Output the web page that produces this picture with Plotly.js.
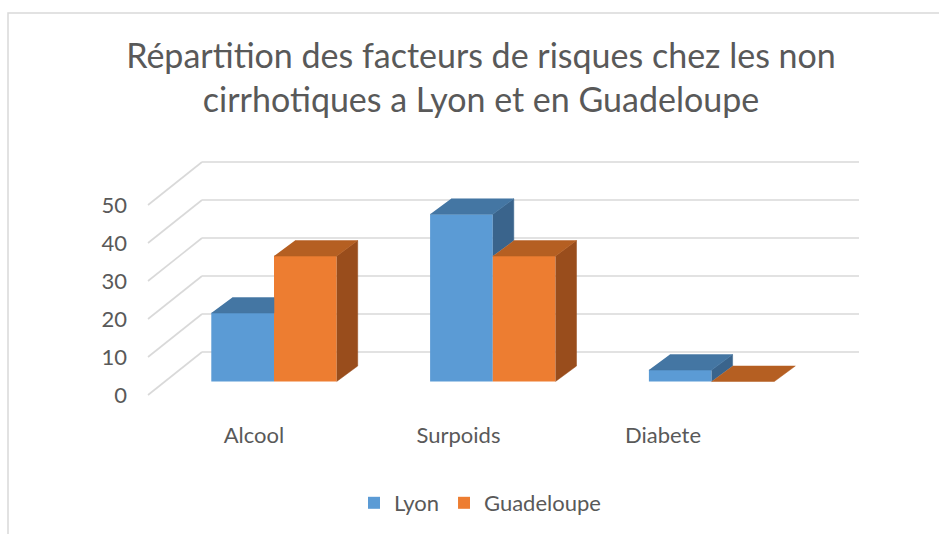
<!DOCTYPE html>
<html><head><meta charset="utf-8">
<script src="https://cdn.plot.ly/plotly-3.0.1.min.js"></script>
<style>html,body{margin:0;padding:0;background:#fff}#chart{width:939px;height:534px}</style>
</head><body><div id="chart"></div>
<script>
// ---- data ----
const categories = ['Alcool', 'Surpoids', 'Diabete'];
const seriesNames = ['Lyon', 'Guadeloupe'];
const lyon = [18, 44, 3];
const guadeloupe = [33, 33, 0];
const yTicks = [0, 10, 20, 30, 40, 50];
const titleText = 'Répartition des facteurs de risques chez les non<br>cirrhotiques a Lyon et en Guadeloupe';

// ---- styling / geometry (pixels) ----
const W = 939, H = 534;
const plotL = 128, plotR = 900, plotT = 150, plotB = 420;
const barX0 = 274, pxPerCat = 218.8, barY0 = 381.5, pxPerUnit = 3.8;
const barWpx = 62.7;
const depthPx = [21, -15.5];
const frontShiftPx = [-17, 13.5];
const backShiftPx = [37, -29.5];
const floorFrontLeftPx = 148, wallRightPx = 859;
const labelX0 = 254, labelStep = 204.5;
const frontCols = ['#5B9BD5', '#ED7D31'];
const topCols = ['#4476A3', '#B55F22'];
const sideCols = ['#3A648C', '#994D1C'];
const gridCol = '#d9d9d9';
const textCol = '#595959';
const fontFam = 'Lato, "Open Sans", sans-serif';

const ux = px => px / pxPerCat;        // pixel dx -> x units
const uy = py => -py / pxPerUnit;      // pixel dy (down +) -> y units
const xRange = [(plotL - barX0) / pxPerCat, (plotR - barX0) / pxPerCat];
const yRange = [(barY0 - plotB) / pxPerUnit, (barY0 - plotT) / pxPerUnit];
const w = ux(barWpx), ddx = ux(depthPx[0]), ddy = uy(depthPx[1]);
const series = [lyon, guadeloupe];
const idx = categories.map((_, i) => i);

const traces = [];
// front faces: bars
series.forEach((vals, s) => {
  traces.push({
    type: 'bar', name: seriesNames[s], x: idx, y: vals,
    width: w, offset: (s - series.length / 2) * w,
    marker: {color: frontCols[s], line: {width: 0}},
    hoverinfo: 'y'
  });
});
// top and side faces (oblique 3D look), hidden parts clipped
series.forEach((vals, s) => {
  const next = series[s + 1];
  const tx = [], ty = [], sx = [], sy = [];
  const push = (ax, ay, pts) => { pts.forEach(p => { ax.push(p[0]); ay.push(p[1]); }); ax.push(null); ay.push(null); };
  idx.forEach(i => {
    const xl = i + (s - series.length / 2) * w, xr = xl + w, v = vals[i];
    const vn = next ? next[i] : -Infinity;
    let top;
    if (vn <= v) top = [[xl, v], [xr, v], [xr + ddx, v + ddy], [xl + ddx, v + ddy]];
    else if (vn >= v + ddy) top = [[xl, v], [xr, v], [xr, v + ddy], [xl + ddx, v + ddy]];
    else top = [[xl, v], [xr, v], [xr, vn], [xr + (vn - v) * ddx / ddy, vn], [xr + ddx, v + ddy], [xl + ddx, v + ddy]];
    push(tx, ty, top);
    const base = Math.max(0, vn);
    if (v > base) push(sx, sy, [[xr, base], [xr + ddx, base + ddy], [xr + ddx, v + ddy], [xr, v]]);
  });
  traces.push({type: 'scatter', mode: 'lines', x: sx, y: sy, fill: 'toself', fillcolor: sideCols[s],
    line: {color: sideCols[s], width: 0.5}, showlegend: false, hoverinfo: 'skip'});
  traces.push({type: 'scatter', mode: 'lines', x: tx, y: ty, fill: 'toself', fillcolor: topCols[s],
    line: {color: topCols[s], width: 0.5}, showlegend: false, hoverinfo: 'skip'});
});

// gridlines (back wall + floor diagonals) as shapes below the data
const frontLeftX = (floorFrontLeftPx - barX0) / pxPerCat;
const backLeftX = frontLeftX + ux(backShiftPx[0] - frontShiftPx[0]);
const backRightX = (wallRightPx - barX0) / pxPerCat;
const shapes = [];
yTicks.forEach(t => {
  const yb = t + uy(backShiftPx[1]), yf = t + uy(frontShiftPx[1]);
  shapes.push({type: 'line', xref: 'x', yref: 'y', layer: 'below', x0: backLeftX, x1: backRightX, y0: yb, y1: yb,
    line: {color: gridCol, width: 1.6}});
  shapes.push({type: 'line', xref: 'x', yref: 'y', layer: 'below', x0: frontLeftX, x1: backLeftX, y0: yf, y1: yb,
    line: {color: gridCol, width: 1.6}});
});
// chart frame border
const px2paperX = px => (px - plotL) / (plotR - plotL);
const px2paperY = py => (plotB - py) / (plotB - plotT);
shapes.push({type: 'path', xref: 'paper', yref: 'paper', layer: 'below',
  path: `M ${px2paperX(8)} ${px2paperY(H + 5)} L ${px2paperX(8)} ${px2paperY(13)} L ${px2paperX(W + 5)} ${px2paperY(13)}`,
  line: {color: gridCol, width: 1.5}});

// tick labels sit on the front edge of the floor
const yTickVals = yTicks.map(t => t + uy(frontShiftPx[1]));
const xTickVals = idx.map(i => (labelX0 + i * labelStep - barX0) / pxPerCat);

const layout = {
  width: W, height: H,
  margin: {l: plotL, r: W - plotR, t: plotT, b: H - plotB, pad: 0, autoexpand: false},
  paper_bgcolor: '#ffffff', plot_bgcolor: 'rgba(0,0,0,0)',
  font: {family: fontFam, color: textCol, size: 22},
  title: {text: titleText, font: {family: fontFam, size: 34, color: textCol},
    x: (481 - plotL) / (plotR - plotL), xref: 'paper', xanchor: 'center',
    y: 1 - 68 / H, yref: 'container', yanchor: 'top'},
  barmode: 'overlay',
  showlegend: true,
  legend: {orientation: 'h', x: (480 - plotL) / (plotR - plotL), xanchor: 'center', y: px2paperY(482), yanchor: 'top',
    font: {family: fontFam, size: 22, color: textCol}, traceorder: 'normal', itemwidth: 30},
  xaxis: {range: xRange, showgrid: false, zeroline: false, showline: false, fixedrange: true,
    tickmode: 'array', tickvals: xTickVals, ticktext: categories, ticks: '',
    tickfont: {family: fontFam, size: 22, color: textCol}},
  yaxis: {range: yRange, showgrid: false, zeroline: false, showline: false, fixedrange: true,
    tickmode: 'array', tickvals: yTickVals, ticktext: yTicks.map(String), ticks: '',
    tickfont: {family: fontFam, size: 22, color: textCol}},
  shapes: shapes
};
Plotly.newPlot('chart', traces, layout, {staticPlot: true, displayModeBar: false});
</script>
</body></html>
